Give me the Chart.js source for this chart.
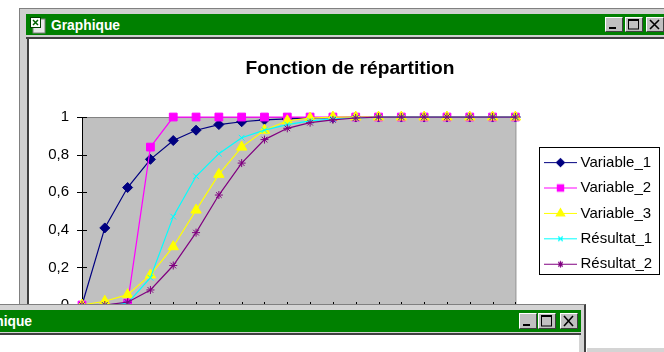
<!DOCTYPE html>
<html lang="fr">
<head>
<meta charset="utf-8">
<title>Fonction de répartition</title>
<script src="https://cdn.jsdelivr.net/npm/chart.js@4/dist/chart.umd.min.js"></script>
<style>
    html, body { margin: 0; background: #fff; overflow: hidden; }
    #page { position: relative; width: 664px; height: 352px; overflow: hidden; font-family: "Liberation Sans", Arial, sans-serif; }
    .abs { position: absolute; }
    .bar { position: absolute; background: #008000; color: #fff; font: bold 13.8px "Liberation Sans", Arial, sans-serif; line-height: 23px; white-space: nowrap; overflow: hidden; }
    .btn { position: absolute; width: 17px; height: 15px; background: #c0c0c0; box-sizing: border-box;
           border: 1px solid; border-color: #fff #404040 #404040 #fff; }
    .btn svg { position: absolute; left: 0; top: 0; }
    #chart-box { position: absolute; left: 36px; top: 39px; width: 628px; height: 313px; }
</style>
</head>
<body>
<div id="page">
    <!-- fenetre principale -->
    <div class="abs" style="left:19px;top:8px;width:645px;height:344px;background:#d0d0d0;border-top:1px solid #808080;border-left:1px solid #808080;box-sizing:border-box"></div>
    <div class="bar" style="left:26px;top:14px;width:638px;height:21px"><span style="position:absolute;left:25px">Graphique</span></div>
    <div class="abs" style="left:26px;top:37px;width:638px;height:2px;background:#404040"></div>
    <div class="abs" style="left:27px;top:39px;width:2px;height:313px;background:#404040"></div>
    <div class="abs" style="left:29px;top:39px;width:635px;height:313px;background:#fff"></div>
    <svg class="abs" style="left:30px;top:17px" width="16" height="17">
        <rect x="3" y="2" width="12" height="14" fill="#e8e8e8" stroke="#808080"/>
        <rect x="0.5" y="0.5" width="10" height="10" fill="#fff" stroke="#004000"/>
        <path d="M3 3l5 5M8 3l-5 5" stroke="#006000" stroke-width="1.5"/>
    </svg>
    <div class="btn" style="left:605px;top:17px;width:18px"><svg width="16" height="13"><rect x="3" y="9" width="7" height="2" fill="#000"/></svg></div>
    <div class="btn" style="left:625px;top:17px;width:18px"><svg width="16" height="13"><rect x="2.5" y="2" width="10" height="9" fill="none" stroke="#000"/><rect x="2" y="1" width="11" height="2" fill="#000"/></svg></div>
    <div class="btn" style="left:646px;top:17px;width:18px"><svg width="16" height="13"><path d="M3 2l9 9M12 2l-9 9" stroke="#000" stroke-width="1.6"/></svg></div>

    <div id="chart-box"><canvas id="chart" width="628" height="313"></canvas></div>

    <!-- seconde fenetre, par dessus le graphique -->
    <div class="abs" style="left:0;top:304px;width:586px;height:48px;background:#d4d4d4;border-top:1px solid #808080;border-right:2px solid #404040;box-sizing:border-box"></div>
    <div class="bar" style="left:0;top:310px;width:581px;height:22px"><span style="position:absolute;left:-37px">Graphique</span></div>
    <div class="abs" style="left:0;top:333px;width:581px;height:2px;background:#404040"></div>
    <div class="abs" style="left:0;top:335px;width:579px;height:17px;background:#fff"></div>
    <div class="abs" style="left:587px;top:348px;width:77px;height:4px;background:#d4d4d4"></div>
    <div class="btn" style="left:519px;top:313px;width:18px;height:16px"><svg width="16" height="14"><rect x="3" y="10" width="7" height="2" fill="#000"/></svg></div>
    <div class="btn" style="left:538px;top:313px;width:18px;height:16px"><svg width="16" height="14"><rect x="2.5" y="2" width="10" height="10" fill="none" stroke="#000"/><rect x="2" y="1" width="11" height="2" fill="#000"/></svg></div>
    <div class="btn" style="left:560px;top:313px;width:18px;height:16px"><svg width="16" height="14"><path d="M3 2l9 10M12 2l-9 10" stroke="#000" stroke-width="1.6"/></svg></div>
</div>

<script>
const categories = ['1', '2', '3', '4', '5', '6', '7', '8', '9', '10', '11', '12', '13', '14', '15', '16', '17', '18', '19', '20'];
const variable1 = [0, 0.41, 0.625, 0.775, 0.875, 0.93, 0.96, 0.975, 0.985, 0.99, 0.995, 0.997, 1, 1, 1, 1, 1, 1, 1, 1];
const variable2 = [0, 0, 0.01, 0.84, 1, 1, 1, 1, 1, 1, 1, 1, 1, 1, 1, 1, 1, 1, 1, 1];
const variable3 = [0, 0.02, 0.055, 0.16, 0.31, 0.505, 0.695, 0.84, 0.93, 0.98, 0.995, 1, 1, 1, 1, 1, 1, 1, 1, 1];
const resultat1 = [0, 0, 0.01, 0.145, 0.47, 0.685, 0.805, 0.89, 0.93, 0.96, 0.98, 0.99, 0.995, 1, 1, 1, 1, 1, 1, 1];
const resultat2 = [0, 0, 0.015, 0.08, 0.21, 0.385, 0.585, 0.755, 0.88, 0.94, 0.97, 0.985, 0.995, 1, 1, 1, 1, 1, 1, 1];
const seriesNames = ['Variable_1', 'Variable_2', 'Variable_3', 'Résultat_1', 'Résultat_2'];
const seriesColors = ['#000080', '#ff00ff', '#ffff00', '#00ffff', '#800080'];
const seriesMarkers = ['rectRot', 'rect', 'triangle', 'crossRot', 'star'];
const markerSizes = [5, 5.5, 6, 4, 4];
const yTicks = [0, 0.2, 0.4, 0.6, 0.8, 1];

const FONT = '"Liberation Sans", Arial, sans-serif';
const allValues = [variable1, variable2, variable3, resultat1, resultat2];

// petit dessin ligne + marqueur pour la legende
function legendSample(i) {
    const c = document.createElement('canvas');
    c.width = 33;
    c.height = 13;
    const g = c.getContext('2d');
    g.strokeStyle = seriesColors[i];
    g.lineWidth = 1.2;
    g.beginPath();
    g.moveTo(0, 6.5);
    g.lineTo(33, 6.5);
    g.stroke();
    g.fillStyle = seriesColors[i];
    Chart.helpers.drawPoint(g, { pointStyle: seriesMarkers[i], radius: markerSizes[i] * 0.8, borderWidth: 1 }, 16.5, 6.5);
    return c;
}

const plotFrame = {
    id: 'plotFrame',
    beforeDraw(chart) {
        const { ctx, chartArea: a } = chart;
        ctx.save();
        ctx.fillStyle = '#c0c0c0';
        ctx.fillRect(a.left, a.top, a.right - a.left, a.bottom - a.top);
        ctx.strokeStyle = '#808080';
        ctx.beginPath();
        ctx.moveTo(a.left, a.top + 0.5);
        ctx.lineTo(a.right + 0.5, a.top + 0.5);
        ctx.lineTo(a.right + 0.5, a.bottom);
        ctx.stroke();

        // graduations a cheval sur les axes
        ctx.strokeStyle = '#000';
        ctx.beginPath();
        chart.scales.y.ticks.forEach((t, i) => {
            const y = Math.round(chart.scales.y.getPixelForTick(i)) + 0.5;
            ctx.moveTo(a.left - 5, y);
            ctx.lineTo(a.left + 5, y);
        });
        chart.scales.x.ticks.forEach((t, i) => {
            const x = Math.round(chart.scales.x.getPixelForTick(i)) + 0.5;
            ctx.moveTo(x, a.bottom - 3);
            ctx.lineTo(x, a.bottom + 3);
        });
        ctx.stroke();
        ctx.restore();
    }
};

const legendFrame = {
    id: 'legendFrame',
    afterLayout(chart) {
        // la legende est decollee du graphique, comme dans Excel
        const l = chart.legend;
        const w = l.width;
        const h = l.height;
        l.left = 501.6;
        l.right = 501.6 + w;
        l.top = 105.7;
        l.bottom = 105.7 + h;
        l.adjustHitBoxes();
        // le titre reste centre sur tout le canvas malgre le padding de droite
        chart.titleBlock.left += 12;
        chart.titleBlock.right += 12;
    },
    afterDraw(chart) {
        const { ctx } = chart;
        ctx.save();
        ctx.strokeStyle = '#000';
        ctx.strokeRect(503.5, 108.5, 120, 127);
        ctx.restore();
    }
};

new Chart(document.getElementById('chart'), {
    type: 'line',
    data: {
        labels: categories,
        datasets: seriesNames.map((name, i) => ({
            label: name,
            data: allValues[i],
            borderColor: seriesColors[i],
            backgroundColor: seriesColors[i],
            borderWidth: 1.2,
            tension: 0,
            fill: false,
            clip: false,
            pointStyle: seriesMarkers[i],
            pointRadius: markerSizes[i],
            pointBorderWidth: 1,
            order: seriesNames.length - i
        }))
    },
    options: {
        responsive: false,
        animation: false,
        events: [],
        layout: { padding: { left: 0, right: 24, top: 18, bottom: 47 } },
        scales: {
            x: {
                type: 'category',
                offset: false,
                afterFit(s) { s.height = 0; },
                grid: { display: false },
                border: { display: false },
                ticks: { display: false }
            },
            y: {
                min: 0,
                max: 1,
                afterFit(s) { s.width = 46; },
                afterBuildTicks(s) { s.ticks = yTicks.map(v => ({ value: v })); },
                grid: { display: false },
                border: { display: true, color: '#000', width: 1 },
                ticks: {
                    padding: 5,
                    color: '#000',
                    font: { family: FONT, size: 15 },
                    callback: v => String(v).replace('.', ',')
                }
            }
        },
        plugins: {
            tooltip: { enabled: false },
            title: {
                display: true,
                text: 'Fonction de répartition',
                color: '#000',
                font: { family: FONT, size: 19.2, weight: 'bold' },
                padding: { top: 0, bottom: 37 }
            },
            legend: {
                position: 'right',
                align: 'start',
                labels: {
                    color: '#000',
                    font: { family: FONT, size: 15 },
                    usePointStyle: true,
                    pointStyleWidth: 25,
                    padding: 10.4,
                    generateLabels: chart => chart.data.datasets.map((d, i) => ({
                        text: d.label,
                        fontColor: '#000',
                        datasetIndex: i,
                        lineWidth: 0,
                        pointStyle: legendSample(i)
                    }))
                }
            }
        }
    },
    plugins: [plotFrame, legendFrame]
});
</script>
</body>
</html>
